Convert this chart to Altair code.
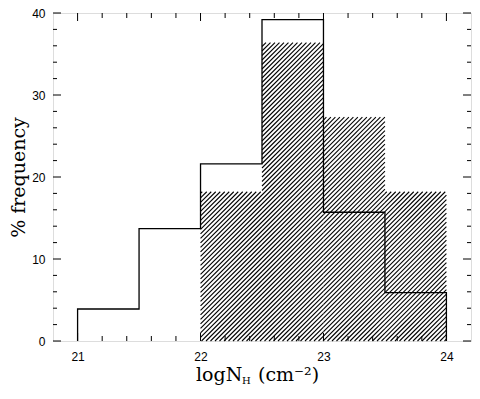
import altair as alt
import pandas as pd
import numpy as np

# ---- data ----
bin_left = [21.0, 21.5, 22.0, 22.5, 23.0, 23.5]
all_pct = [3.9, 13.7, 21.6, 39.2, 15.7, 5.9]
hatch_left = [22.0, 22.5, 23.0, 23.5]
hatch_pct = [18.2, 36.4, 27.3, 18.2]
bin_width = 0.5
x_major = [21, 22, 23, 24]
y_major = [0, 10, 20, 30, 40]

X0, X1 = 20.8, 24.2
Y0, Y1 = 0, 40
W, H = 418, 328
PT = 5  # top padding

xs = alt.Scale(domain=[X0, X1], nice=False, zero=False)
ys = alt.Scale(domain=[Y0, Y1], nice=False, zero=False)

# step outline of the full-sample histogram
pts = [(bin_left[0], 0)]
for xl, v in zip(bin_left, all_pct):
    pts.append((xl, v))
pts.append((bin_left[-1] + bin_width, all_pct[-1]))
pts.append((bin_left[-1] + bin_width, 0))
outline = pd.DataFrame({"x": [p[0] for p in pts], "y": [p[1] for p in pts], "o": range(len(pts))})

# hatch lines for the sub-sample histogram (45 degree in pixel space)
def to_px(x):
    return (x - X0) / (X1 - X0) * W

def to_py(y):
    return (y - Y0) / (Y1 - Y0) * H

s = 4.5
segs = []
for xl, v in zip(hatch_left, hatch_pct):
    x0p, x1p, hp = to_px(xl), to_px(xl + bin_width), to_py(v)
    kmin = int(np.floor((x0p - hp) / s))
    kmax = int(np.ceil(x1p / s))
    for k in range(kmin, kmax + 1):
        c = k * s
        xa = max(x0p, c)
        xb = min(x1p, c + hp)
        if xb > xa:
            ya, yb = xa - c, xb - c
            segs.append({
                "x": X0 + xa / W * (X1 - X0), "x2": X0 + xb / W * (X1 - X0),
                "y": Y0 + ya / H * (Y1 - Y0), "y2": Y0 + yb / H * (Y1 - Y0)})
hatch = pd.DataFrame(segs)

hatch_layer = alt.Chart(hatch).mark_rule(color="black", strokeWidth=1.1).encode(
    x=alt.X("x:Q", scale=xs, axis=alt.Axis(values=x_major, ticks=False, domain=False, grid=False,
                                              labelFont="Liberation Sans", labelFontSize=12,
                                              labelColor="black", labelPadding=10, title=None,
                                              format="d")),
    x2="x2:Q",
    y=alt.Y("y:Q", scale=ys, axis=alt.Axis(values=y_major, ticks=False, domain=False, grid=False,
                                              labelFont="Liberation Sans", labelFontSize=12,
                                              labelColor="black", labelPadding=8,
                                              title="% frequency", titleFont="DejaVu Serif",
                                              titleFontSize=19, titleFontWeight="normal",
                                              titleColor="black", titlePadding=3)),
    y2="y2:Q",
)

outline_layer = alt.Chart(outline).mark_line(color="black", strokeWidth=1.3, interpolate="step-after").encode(
    x=alt.X("x:Q", scale=xs), y=alt.Y("y:Q", scale=ys), order="o:Q")

# inward ticks on all four sides
xt_major = pd.DataFrame({"v": x_major})
xt_minor = pd.DataFrame({"v": [round(v, 1) for v in np.arange(21.0, 24.2, 0.2) if abs(v - round(v)) > 1e-6]})
yt_major = pd.DataFrame({"v": y_major})
yt_minor = pd.DataFrame({"v": [v for v in range(0, 41, 2) if v % 10 != 0]})

def xticks(df, L):
    b = alt.Chart(df).mark_rule(color="black", strokeWidth=1)
    return (b.encode(x=alt.X("v:Q", scale=xs), y=alt.value(H), y2=alt.value(H - L)) +
            b.encode(x=alt.X("v:Q", scale=xs), y=alt.value(0), y2=alt.value(L)))

def yticks(df, L):
    b = alt.Chart(df).mark_rule(color="black", strokeWidth=1)
    return (b.encode(y=alt.Y("v:Q", scale=ys), x=alt.value(0), x2=alt.value(L)) +
            b.encode(y=alt.Y("v:Q", scale=ys), x=alt.value(W), x2=alt.value(W - L)))

ticks = xticks(xt_major, 8) + xticks(xt_minor, 5) + yticks(yt_major, 8) + yticks(yt_minor, 4)

# x-axis title with subscript
def ttext(txt, px, py, size):
    return alt.Chart(pd.DataFrame({"t": [txt]})).mark_text(
        font="DejaVu Serif", fontSize=size, align="left", baseline="alphabetic", color="black"
    ).encode(text="t:N", x=alt.value(px), y=alt.value(py))

TB = H + 40  # baseline of x title
xtitle = ttext("logN", 143, TB, 19) + ttext("H", 189, TB + 3, 10) + ttext("(cm⁻²)", 205, TB, 19)

chart = alt.layer(hatch_layer, outline_layer, ticks, xtitle).properties(
    width=W, height=H,
    autosize=alt.AutoSizeParams(type="none"),
    padding={"left": 45, "top": PT, "right": 1, "bottom": 49},
).configure_view(stroke="black", strokeWidth=1.3).configure(background="white")

chart.save("out.html", embed_options={"renderer": "svg", "actions": False})
